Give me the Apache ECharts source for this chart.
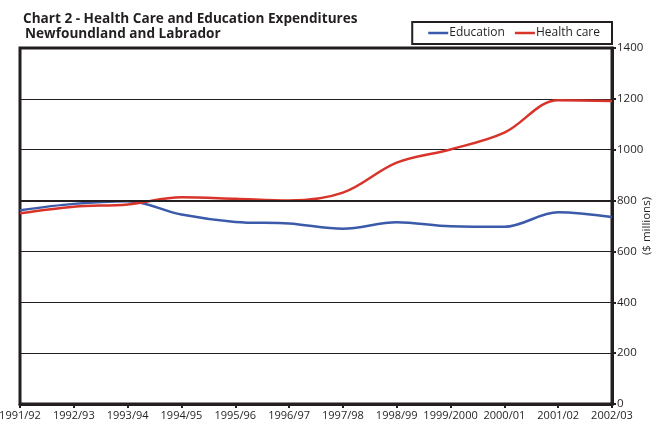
<!DOCTYPE html>
<html><head><meta charset="utf-8">
<script src="https://cdn.jsdelivr.net/npm/echarts@6/dist/echarts.min.js"></script>
<style>html,body{margin:0;padding:0;background:#fff}#c{width:658px;height:424px}</style>
</head><body><div id="c"></div>
<script>
const categories = ['1991/92','1992/93','1993/94','1994/95','1995/96','1996/97','1997/98','1998/99','1999/2000','2000/01','2001/02','2002/03'];
const education = [762, 787, 797, 745, 716, 710, 689, 715, 699, 697, 754, 735];
const healthCare = [750, 776, 785, 813, 807, 800, 831, 949, 1001, 1067, 1195, 1192];
const yTicks = [0, 200, 400, 600, 800, 1000, 1200, 1400];

const ink = '#231f20';
const font = 'Open Sans';
const chart = echarts.init(document.getElementById('c'));
chart.setOption({
  animation: false,
  textStyle: { fontFamily: font },
  title: [
    { text: 'Chart 2 - Health Care and Education Expenditures', left: 18, top: 7,
      textStyle: { fontFamily: font, fontSize: 13.6, fontWeight: 'bold', color: ink } },
    { text: 'Newfoundland and Labrador', left: 20, top: 22,
      textStyle: { fontFamily: font, fontSize: 13.6, fontWeight: 'bold', color: ink } }
  ],
  legend: {
    right: 46, top: 22,
    borderColor: ink, borderWidth: 2, padding: [5, 12, 5, 16],
    icon: 'rect', itemWidth: 20, itemHeight: 2.5, itemGap: 10,
    textStyle: { fontFamily: font, fontSize: 12, color: ink, padding: [0, 0, 0, -4] },
    data: ['Education', 'Health care']
  },
  grid: { left: 20, right: 46, top: 48, bottom: 20, show: true, borderColor: ink, borderWidth: 3,
    containLabel: false, outerBoundsMode: 'none' },
  xAxis: {
    type: 'category', data: categories, boundaryGap: false,
    axisLine: { show: true, lineStyle: { color: ink, width: 3 } },
    axisTick: { show: true, length: 4, interval: 0, lineStyle: { color: ink, width: 2 } },
    axisLabel: { interval: 0, color: ink, fontSize: 11, margin: 6, fontFamily: font, hideOverlap: false },
    splitLine: { show: false }
  },
  yAxis: {
    type: 'value', position: 'right', min: 0, max: 1400, interval: 200,
    name: '($ millions)', nameLocation: 'middle', nameGap: 29, nameRotate: 90, nameMoveOverlap: false,
    nameTextStyle: { color: ink, fontSize: 11.5, fontFamily: font },
    axisLine: { show: true, lineStyle: { color: ink, width: 3 } },
    axisTick: { show: true, length: 4, lineStyle: { color: ink, width: 2 } },
    axisLabel: { color: ink, fontSize: 11.5, margin: 5, fontFamily: font,
      formatter: v => yTicks.includes(v) ? String(v) : '' },
    splitLine: { show: true, lineStyle: { color: ink, width: 1 } }
  },
  series: [
    { name: 'Education', type: 'line', data: education, smooth: 0.35, symbol: 'none',
      itemStyle: { color: '#3b5aa9' }, lineStyle: { color: '#3b5aa9', width: 2.5 },
      markLine: { silent: true, symbol: 'none', label: { show: false },
        lineStyle: { color: ink, width: 2, type: 'solid' }, data: [{ yAxis: 800 }] }, z: 3 },
    { name: 'Health care', type: 'line', data: healthCare, smooth: 0.35, symbol: 'none',
      itemStyle: { color: '#d8342a' }, lineStyle: { color: '#d8342a', width: 2.5 }, z: 4 }
  ]
});
</script></body></html>
